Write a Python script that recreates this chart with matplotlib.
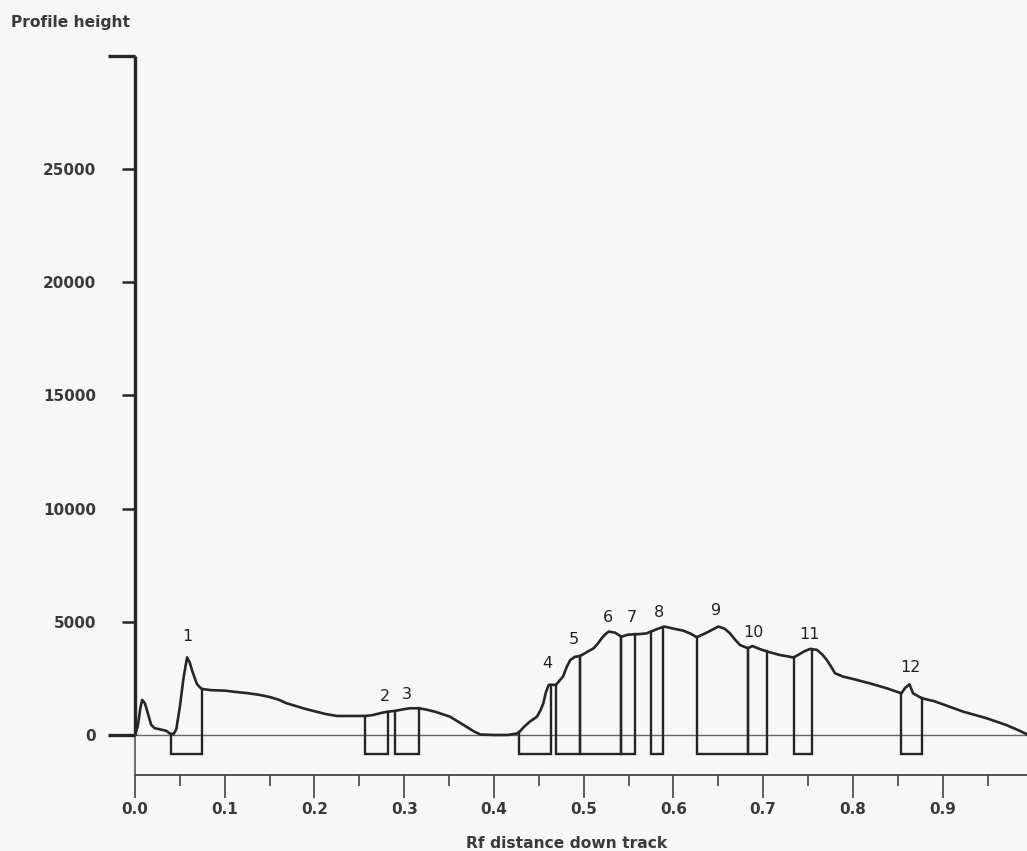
import numpy as np
import matplotlib
matplotlib.use("Agg")
import matplotlib.pyplot as plt

# Densitometer profile: Rf position along the track and profile height
rf = [0.000, 0.003, 0.006, 0.008, 0.011, 0.014, 0.018, 0.022, 0.026, 0.031,
      0.035, 0.039, 0.043, 0.046, 0.050, 0.054, 0.058, 0.061, 0.064, 0.069,
      0.073, 0.075, 0.085, 0.100, 0.110, 0.125, 0.139, 0.150, 0.160, 0.169,
      0.180, 0.190, 0.199, 0.212, 0.225, 0.240, 0.257, 0.265, 0.275, 0.282,
      0.289, 0.297, 0.306, 0.316, 0.325, 0.335, 0.351, 0.365, 0.378, 0.385,
      0.400, 0.415, 0.425, 0.428, 0.434, 0.440, 0.448, 0.452, 0.455, 0.458,
      0.461, 0.465, 0.469, 0.473, 0.477, 0.481, 0.485, 0.490, 0.496, 0.503,
      0.511, 0.516, 0.520, 0.524, 0.528, 0.535, 0.542, 0.549, 0.557, 0.563,
      0.570, 0.575, 0.583, 0.590, 0.600, 0.611, 0.619, 0.626, 0.637, 0.650,
      0.657, 0.663, 0.669, 0.674, 0.683, 0.688, 0.696, 0.705, 0.719, 0.728,
      0.734, 0.745, 0.752, 0.760, 0.766, 0.771, 0.776, 0.780, 0.789, 0.800,
      0.819, 0.838, 0.854, 0.858, 0.863, 0.867, 0.877, 0.890, 0.900, 0.923,
      0.949, 0.971, 0.985, 0.994]
height = [0, 370, 1200, 1550, 1400, 1000, 450, 300, 265, 220,
          180, 60, 40, 250, 1250, 2500, 3430, 3200, 2800, 2250,
          2080, 2030, 1980, 1960, 1910, 1850, 1770, 1680, 1560, 1400,
          1270, 1150, 1060, 930, 840, 840, 840, 880, 980, 1030,
          1060, 1120, 1180, 1180, 1120, 1020, 810, 470, 150, 20,
          0, 0, 60, 120, 380, 590, 810, 1100, 1400, 1900,
          2210, 2220, 2210, 2400, 2580, 3000, 3310, 3450, 3490, 3650,
          3830, 4050, 4270, 4450, 4570, 4520, 4340, 4430, 4450, 4460,
          4490, 4570, 4700, 4790, 4700, 4610, 4480, 4320, 4520, 4790,
          4700, 4490, 4200, 3980, 3830, 3930, 3800, 3680, 3530, 3470,
          3420, 3680, 3800, 3760, 3550, 3310, 3000, 2730, 2580, 2475,
          2280, 2060, 1840, 2070, 2240, 1840, 1620, 1500, 1360, 1030,
          740, 440, 200, 30]

# Integrated band windows (start, end in Rf) and their labels
band_start = [0.0397, 0.2567, 0.2894, 0.4275, 0.4690, 0.4960, 0.5416, 0.5746,
              0.6260, 0.6828, 0.7343, 0.8536]
band_end = [0.0750, 0.2820, 0.3165, 0.4636, 0.4960, 0.5416, 0.5570, 0.5880,
            0.6828, 0.7040, 0.7540, 0.8773]
band_names = ["1", "2", "3", "4", "5", "6", "7", "8", "9", "10", "11", "12"]
label_rf = [0.058, 0.2786, 0.303, 0.459, 0.489, 0.527, 0.554, 0.584,
            0.647, 0.6887, 0.752, 0.8636]
label_h = [4330, 1680, 1810, 3140, 4240, 5170, 5170, 5390, 5480, 4550,
           4460, 2960]

y_ticks = [0, 5000, 10000, 15000, 20000, 25000, 30000]
y_tick_labels = ["0", "5000", "10000", "15000", "20000", "25000", ""]
x_ticks = [0.0, 0.1, 0.2, 0.3, 0.4, 0.5, 0.6, 0.7, 0.8, 0.9]
x_tick_labels = ["0.0", "0.1", "0.2", "0.3", "0.4", "0.5", "0.6", "0.7", "0.8", "0.9"]

BOX_DEPTH = -850
Y_MIN, Y_MAX = -1768, 30000
X_MAX = 0.994

ink = "#262626"
text_col = "#3a3a3a"
bg = "#f7f7f7"

fig = plt.figure(figsize=(10.27, 8.51), dpi=100, facecolor=bg)
ax = fig.add_axes([135 / 1027, 76 / 851, (1027 - 135) / 1027, 719 / 851])
ax.set_facecolor(bg)
ax.set_xlim(0, X_MAX)
ax.set_ylim(Y_MIN, Y_MAX)

for side in ("left", "right", "top"):
    ax.spines[side].set_visible(False)
ax.spines["bottom"].set_linewidth(1.3)
ax.spines["bottom"].set_color("#444444")

# zero baseline
ax.axhline(0, color="#666666", lw=1.0, zorder=1)

# y axis: heavy above zero, light below
ax.plot([0, 0], [0, Y_MAX], color=ink, lw=2.4, clip_on=False, zorder=4,
        solid_capstyle="butt")
ax.plot([0, 0], [Y_MIN, 0], color="#555555", lw=1.2, clip_on=False, zorder=4)

# long end ticks at 0 and at the top of the y axis
ytr = ax.get_yaxis_transform()
for yv in (0, Y_MAX):
    ax.plot([-27 / 892, 0], [yv, yv], color=ink, lw=2.4, transform=ytr,
            clip_on=False, zorder=4, solid_capstyle="butt")

# profile trace
ax.plot(rf, height, color=ink, lw=1.9, zorder=3, solid_joinstyle="round")

# band integration boxes
for s, e in zip(band_start, band_end):
    hs = np.interp(s, rf, height)
    he = np.interp(e, rf, height)
    ax.plot([s, s, e, e], [hs, BOX_DEPTH, BOX_DEPTH, he], color=ink, lw=1.7,
            zorder=3, solid_joinstyle="miter")

# band numbers
for name, xv, yv in zip(band_names, label_rf, label_h):
    ax.text(xv, yv, name, ha="center", va="center", fontsize=11.5,
            color="#202020", family="DejaVu Sans")

# ticks
ax.set_yticks(y_ticks)
ax.set_yticklabels(y_tick_labels)
ax.tick_params(axis="y", length=9.5, width=1.8, color=ink, pad=18.5,
               labelsize=11, labelcolor=text_col)
ax.set_xticks(x_ticks)
ax.set_xticklabels(x_tick_labels)
ax.set_xticks(np.arange(0.05, 1.0, 0.1), minor=True)
ax.tick_params(axis="x", which="major", length=16.5, width=1.2, color="#444444",
               pad=3, labelsize=11, labelcolor=text_col)
ax.tick_params(axis="x", which="minor", length=8, width=1.2, color="#444444")
for lab in ax.get_xticklabels() + ax.get_yticklabels():
    lab.set_fontweight("bold")

fig.text(11 / 1027, 1 - 22 / 851, "Profile height", ha="left", va="center",
         fontsize=11.2, fontweight="bold", color=text_col)
fig.text(567 / 1027, 1 - 843 / 851, "Rf distance down track", ha="center",
         va="center", fontsize=11.2, fontweight="bold", color=text_col)

fig.savefig("out.png", dpi=100, facecolor=bg)
